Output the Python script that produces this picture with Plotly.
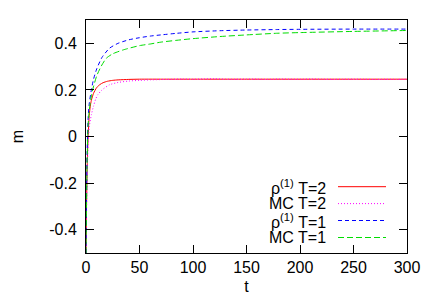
import plotly.graph_objects as go

# ---- data ----
t_rho2 = [0, 0.5, 1, 1.5, 2, 3, 4, 5, 7, 10, 13, 16, 20, 25, 30, 40, 50, 75, 100, 150, 200, 250, 300]
m_rho2 = [-0.5, -0.3, -0.15, -0.06, 0.0, 0.09, 0.13, 0.155, 0.185, 0.21, 0.223, 0.231, 0.237, 0.241, 0.243,
          0.245, 0.246, 0.246, 0.246, 0.246, 0.246, 0.246, 0.246]

t_mc2 = [0, 0.5, 1, 2, 3, 5, 7, 9, 11, 15, 22, 30, 40, 50, 60, 75, 90, 100, 110, 120, 130, 140, 150, 160,
         170, 180, 190, 200, 210, 220, 230, 240, 250, 260, 270, 280, 290, 300]
m_mc2 = [-0.5, -0.32, -0.18, -0.03, 0.04, 0.093, 0.13, 0.16, 0.179, 0.2, 0.222, 0.232, 0.238, 0.241, 0.243,
         0.245, 0.2465, 0.2455, 0.247, 0.2475, 0.246, 0.2455, 0.2465, 0.246, 0.245, 0.2465, 0.246, 0.2455,
         0.2465, 0.246, 0.245, 0.2455, 0.246, 0.2455, 0.2445, 0.2455, 0.245, 0.2455]

t_rho1 = [0, 0.5, 1, 2, 3, 5, 7, 10, 15, 22, 30, 40, 50, 60, 70, 85, 100, 125, 150, 178, 200, 250, 300]
m_rho1 = [-0.5, -0.25, -0.08, 0.08, 0.14, 0.2, 0.245, 0.29, 0.34, 0.379, 0.4, 0.415, 0.424, 0.431, 0.436,
          0.443, 0.449, 0.454, 0.457, 0.459, 0.46, 0.461, 0.461]

t_mc1 = [0, 0.5, 1, 2, 3, 4.5, 6.2, 10, 14, 19, 25, 35, 50, 60, 70, 85, 100, 125, 150, 178, 200, 250, 300]
m_mc1 = [-0.5, -0.28, -0.12, 0.05, 0.11, 0.16, 0.2, 0.26, 0.3, 0.336, 0.355, 0.372, 0.39, 0.397, 0.405,
         0.413, 0.42, 0.429, 0.436, 0.443, 0.446, 0.451, 0.455]

x_ticks = [0, 50, 100, 150, 200, 250, 300]
y_ticks = [-0.4, -0.2, 0, 0.2, 0.4]
y_tick_labels = ["-0.4", "-0.2", "0", "0.2", "0.4"]

series = [
    ("ρ<sup>(1)</sup> T=2", t_rho2, m_rho2, "#ff0000", "solid"),
    ("MC T=2", t_mc2, m_mc2, "#ff00ff", "1px,2px"),
    ("ρ<sup>(1)</sup> T=1", t_rho1, m_rho1, "#0000ff", "4px,3px"),
    ("MC T=1", t_mc1, m_mc1, "#00dd00", "6px,3px"),
]

FONT = "Liberation Sans, Arial, sans-serif"
W, H = 436, 305
L, R, T, B = 86, 29, 20, 52
pw, ph = W - L - R, H - T - B

fig = go.Figure()
for name, tx, my, col, dash in series:
    fig.add_trace(go.Scatter(x=tx, y=my, mode="lines", name=name,
                             line=dict(color=col, width=1, dash=dash, shape="spline", smoothing=0.6),
                             showlegend=False))

# custom gnuplot-style key (text left, sample right)
row_y = [186.7, 203.6, 220.5, 237.5]
for (name, tx, my, col, dash), py in zip(series, row_y):
    yp = (H - B - py) / ph
    fig.add_annotation(x=(328 - L) / pw, y=yp, xref="paper", yref="paper", text=name,
                       showarrow=False, xanchor="right", yanchor="middle",
                       font=dict(family=FONT, size=16, color="black"))
    fig.add_shape(type="line", xref="paper", yref="paper",
                  x0=(338 - L) / pw, x1=(386 - L) / pw, y0=yp, y1=yp,
                  line=dict(color=col, width=1, dash=dash))

axis_common = dict(showline=True, linecolor="black", linewidth=1, mirror="allticks",
                   ticks="inside", ticklen=8, tickcolor="black", tickwidth=1,
                   showgrid=False, zeroline=False, automargin=True,
                   tickfont=dict(family=FONT, size=16, color="black"))

fig.update_xaxes(range=[0, 300], tickvals=x_ticks,
                 title=dict(text="t", font=dict(family=FONT, size=16, color="black"), standoff=5),
                 **axis_common)
fig.update_yaxes(range=[-0.5, 0.5], tickvals=y_ticks, ticktext=y_tick_labels, ticklabelstandoff=5,
                 title=dict(text="m", font=dict(family=FONT, size=16, color="black"), standoff=21),
                 **axis_common)

fig.update_layout(width=W, height=H, margin=dict(l=L, r=R, t=T, b=B, autoexpand=False),
                  paper_bgcolor="white", plot_bgcolor="white",
                  font=dict(family=FONT, size=16, color="black"))

fig.write_html("out.html", config={"displayModeBar": False},
               post_script="document.body.style.margin='0';")
